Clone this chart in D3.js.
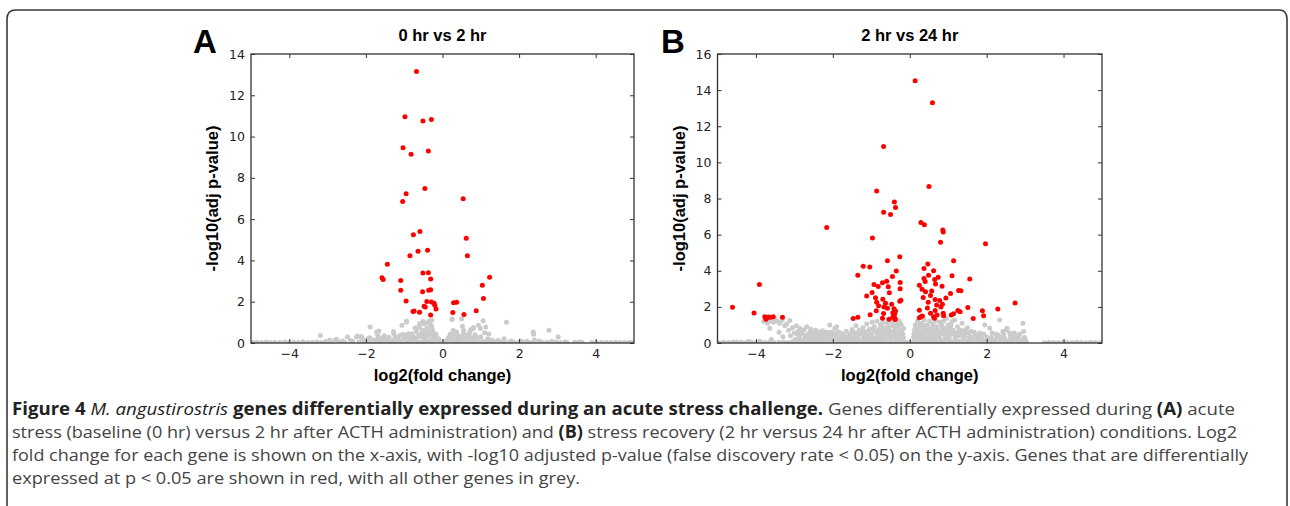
<!DOCTYPE html>
<html>
<head>
<meta charset="utf-8">
<script src="https://cdn.jsdelivr.net/npm/d3@7"></script>
<style>
  html, body { margin: 0; padding: 0; background: #fff; }
  svg { display: block; }
</style>
</head>
<body>
<svg id="fig" width="1290" height="506"></svg>
<script>
// ============================================================
// DATI
// ============================================================
const xTicks = [-4, -2, 0, 2, 4];
const yTicksA = [0, 2, 4, 6, 8, 10, 12, 14];
const yTicksB = [0, 2, 4, 6, 8, 10, 12, 14, 16];
const panelTitles = ["0 hr vs 2 hr", "2 hr vs 24 hr"];
const panelLetters = ["A", "B"];
const xLabel = "log2(fold change)";
const yLabel = "-log10(adj p-value)";

// pannello A: geni significativi (rossi)
const redA = [
  [-0.68,13.15],[-0.98,10.96],[-0.51,10.75],[-0.29,10.83],[-1.03,9.46],[-0.82,9.14],[-0.37,9.3],
  [-0.46,7.49],[-0.95,7.23],[-1.04,6.86],[0.54,6.99],[-0.76,5.25],[-0.59,5.4],[0.62,5.07],
  [-0.85,4.23],[-0.64,4.44],[-0.39,4.49],[0.65,4.23],[-1.44,3.81],[-1.58,3.16],[-1.55,3.08],
  [-1.09,3.03],[-0.51,3.39],[-0.37,3.4],[-0.31,3.1],[1.23,3.18],[1.04,2.8],[-1.09,2.56],
  [-0.52,2.48],[-0.36,2.56],[-0.31,2.58],[-0.95,2.04],[-0.41,2.01],[-0.29,1.99],[-0.22,1.93],
  [-0.2,1.83],[-0.17,1.65],[-0.48,1.78],[-0.45,1.75],[0.29,1.95],[0.37,1.98],[1.07,2.16],
  [-0.77,1.53],[-0.74,1.55],[-0.6,1.49],[-0.31,1.36],[0.27,1.48],[0.56,1.38],[0.88,1.56]
];

// pannello A: altri geni (grigi)
const greyA = [
  [-3.19,0.36],[-2.94,0.15],[-2.8,0.15],[-2.77,0.18],[-2.6,0.1],[-2.48,0.29],[-2.4,0.12],[-2.25,0.29],
  [-2.22,0.34],[-2.12,0.32],[-2.11,0.25],[-2.0,0.12],[-1.95,0.2],[-1.89,0.78],[-1.8,0.15],[-1.72,0.53],
  [-1.69,0.37],[-1.66,0.58],[-1.6,0.2],[-1.55,0.25],[-1.52,0.35],[-1.45,0.15],[-1.4,0.28],[-1.35,0.1],
  [-1.28,0.56],[-1.27,0.45],[-1.2,0.3],[-1.15,0.18],[-1.1,0.38],[-1.06,0.86],[-1.03,0.42],[-1.0,0.22],
  [-0.94,1.0],[-0.94,1.07],[-0.89,0.45],[-0.88,0.3],[-0.82,0.15],[-0.78,0.35],[-0.72,0.73],[-0.7,0.25],
  [-0.64,0.75],[-0.6,0.94],[-0.6,0.8],[-0.57,0.29],[-0.55,0.45],[-0.51,1.04],[-0.51,0.49],[-0.48,0.93],
  [-0.45,0.2],[-0.42,0.6],[-0.41,0.71],[-0.4,0.65],[-0.38,1.0],[-0.36,0.35],[-0.34,1.07],[-0.33,0.9],
  [-0.3,0.15],[-0.29,0.84],[-0.29,0.81],[-0.28,1.1],[-0.26,0.55],[-0.25,0.53],[-0.22,0.3],[-0.2,0.29],
  [-0.17,0.42],[-0.15,0.15],[-0.1,0.2],[0.1,0.1],[0.15,0.25],[0.2,0.42],[0.22,0.3],[0.25,1.18],
  [0.25,1.14],[0.28,0.6],[0.3,0.5],[0.32,0.49],[0.35,0.2],[0.37,0.53],[0.42,0.35],[0.5,1.18],[0.52,0.81],
  [0.55,0.45],[0.55,0.62],[0.6,0.3],[0.65,0.15],[0.68,0.42],[0.72,0.55],[0.74,0.65],[0.78,0.25],
  [0.8,0.7],[0.81,0.75],[0.85,0.4],[0.9,0.2],[0.94,0.86],[0.99,0.7],[1.0,0.3],[1.06,1.08],[1.1,0.5],
  [1.13,0.78],[1.21,0.43],[1.3,0.15],[1.45,0.12],[1.61,0.21],[1.67,1.0],[1.8,0.1],[2.05,0.1],
  [2.2,0.08],[2.37,0.53],[2.38,0.42],[2.4,0.15],[2.53,0.1],[2.78,0.62],[2.85,0.08],[3.02,0.29],
  [3.2,0.05],[3.6,0.05],
  [-1.9,0.25],[-1.7,0.18],[-1.5,0.12],[-1.25,0.22],[-1.12,0.1],[-0.98,0.35],[-0.9,0.2],[-0.8,0.45],
  [-0.75,0.2],[-0.68,0.55],[-0.62,0.35],[-0.53,0.62],[-0.47,0.35],[-0.43,0.48],[-0.37,0.55],[-0.32,0.4],
  [-0.27,0.68],[-0.23,0.45],[-0.18,0.25],[0.18,0.2],[0.26,0.35],[0.33,0.4],[0.4,0.2],[0.47,0.3],
  [0.58,0.2],[0.7,0.35],[0.88,0.3],[1.18,0.2]
];

// pannello A: geni con p ~ 1 (linea di base)
const baseA = [
  [-4.95,0.02],[-4.84,0.04],[-4.72,0.03],[-4.6,0.05],[-4.5,0.02],[-4.38,0.04],[-4.25,0.03],[-4.12,0.05],
  [-4.0,0.02],[-3.88,0.04],[-3.76,0.03],[-3.64,0.06],[-3.52,0.02],[-3.4,0.04],[-3.28,0.05],[-3.16,0.03],
  [-3.05,0.07],[-2.92,0.04],[-2.7,0.06],[-2.55,0.03],[-2.35,0.08],[-2.18,0.05],[-2.05,0.1],[-1.9,0.06],
  [-1.75,0.09],[-1.62,0.04],[-1.48,0.1],[-1.3,0.06],[-1.22,0.12],[-1.08,0.05],[-0.95,0.1],[-0.85,0.07],
  [-0.7,0.12],[-0.62,0.05],[-0.5,0.1],[-0.4,0.08],[-0.3,0.12],[-0.25,0.05],[-0.12,0.1],[-0.05,0.06],
  [0.05,0.08],[0.12,0.05],[0.25,0.1],[0.35,0.06],[0.45,0.12],[0.55,0.05],[0.65,0.09],[0.75,0.06],
  [0.85,0.1],[0.95,0.05],[1.05,0.08],[1.15,0.05],[1.25,0.07],[1.38,0.04],[1.5,0.06],[1.62,0.03],
  [1.75,0.05],[1.88,0.03],[2.0,0.05],[2.12,0.03],[2.25,0.04],[2.36,0.02],[2.48,0.05],[2.6,0.03],
  [2.72,0.04],[2.84,0.02],[2.96,0.05],[3.08,0.03],[3.25,0.02],[3.45,0.04],[3.55,0.03],[3.65,0.02],
  [3.9,0.03],[4.02,0.02],[4.15,0.04],[4.28,0.03],[4.4,0.02],[4.52,0.04],[4.64,0.03],[4.76,0.02],
  [4.88,0.04],[4.97,0.03]
];

// pannello B: geni significativi (rossi)
const redB = [
  [0.14,14.52],[0.59,13.3],[-0.68,10.88],[0.5,8.67],[-0.86,8.41],[-0.4,7.8],[-0.37,7.5],[-0.68,7.24],
  [-0.5,7.11],[-2.16,6.39],[0.29,6.67],[0.38,6.54],[0.86,6.26],[0.87,6.15],[-0.97,5.82],[0.8,5.58],
  [1.97,5.5],[-0.26,4.77],[-0.58,4.55],[1.14,4.56],[0.47,4.38],[-1.21,4.25],[-1.04,4.21],[0.37,4.12],
  [-0.35,3.99],[0.62,4.0],[-1.35,3.75],[-0.45,3.68],[0.49,3.75],[1.1,3.73],[0.74,3.64],[-0.6,3.42],
  [-0.71,3.33],[-0.25,3.35],[0.37,3.57],[0.4,3.4],[0.65,3.51],[1.56,3.55],[-3.91,3.24],[-0.93,3.24],
  [-0.82,3.13],[-0.56,3.11],[-0.25,3.0],[0.25,3.2],[0.67,3.26],[0.84,3.14],[1.27,2.91],[1.33,2.89],
  [0.32,2.97],[0.41,2.84],[-1.12,2.6],[-0.98,2.8],[-0.53,2.78],[0.57,2.88],[0.54,2.63],[0.35,2.52],
  [1.06,2.74],[-0.89,2.5],[-0.7,2.42],[-0.23,2.37],[-0.26,2.31],[0.66,2.41],[0.78,2.35],[0.94,2.49],
  [-0.86,2.26],[-0.63,2.2],[-0.47,2.15],[0.48,2.26],[0.85,2.15],[2.74,2.22],[-4.61,1.98],[-0.81,2.06],
  [-0.67,2.0],[-0.58,1.93],[-0.41,1.9],[0.7,2.11],[0.81,2.0],[1.51,1.96],[0.46,1.94],[2.29,1.88],
  [-0.87,1.79],[-0.37,1.77],[0.25,1.82],[0.66,1.8],[1.25,1.8],[1.31,1.73],[1.89,1.79],[1.14,1.62],
  [1.08,1.55],[-0.44,1.67],[-0.39,1.62],[-4.05,1.66],[-1.03,1.56],[-0.68,1.63],[0.54,1.65],[0.71,1.55],
  [0.87,1.65],[0.88,1.51],[1.92,1.51],[-3.77,1.46],[-3.72,1.38],[-3.68,1.44],[-3.62,1.42],[-3.55,1.46],
  [-3.74,1.31],[-3.31,1.42],[-1.47,1.35],[-1.35,1.42],[-0.71,1.37],[-0.44,1.42],[-0.38,1.35],[-0.41,1.51],
  [0.29,1.46],[0.33,1.49],[0.62,1.46],[0.64,1.37],[0.25,1.4],[1.65,1.35],[-0.54,1.31],[-0.38,1.3]
];

// pannello B: altri geni (grigi)
const greyB = [
  [-3.8,1.2],[-3.75,1.3],[-3.7,1.1],[-3.62,1.25],[-3.55,1.15],[-3.5,1.3],[-3.45,1.2],[-3.38,1.1],
  [-3.32,1.28],[-3.25,0.95],[-3.2,1.05],[-3.12,1.24],[-3.64,0.81],[-3.4,0.6],[-3.3,0.35],[-3.6,0.2],
  [-3.9,0.1],[-4.2,0.08],[-4.5,0.05],
  [-3.15,0.7],[-3.1,0.4],[-3.05,0.85],[-3.0,0.55],[-2.98,0.2],[-2.95,0.95],[-2.9,0.65],[-2.88,0.35],
  [-2.85,0.8],[-2.8,0.5],[-2.78,0.15],[-2.75,0.72],[-2.7,0.42],[-2.68,0.9],[-2.65,0.25],[-2.6,0.6],
  [-2.58,0.78],[-2.55,0.38],[-2.5,0.55],[-2.48,0.12],[-2.45,0.7],[-2.42,0.3],[-2.4,0.48],[-2.35,0.62],
  [-2.32,0.2],[-2.3,0.4],[-2.25,0.55],[-2.22,0.1],[-2.2,0.33],[-2.15,0.48],[-2.12,0.25],[-2.08,1.0],
  [-2.05,0.6],[-2.02,0.38],[-1.98,0.15],[-1.95,0.8],[-1.92,0.45],[-1.9,0.9],[-1.85,0.3],[-1.8,0.55],
  [-1.78,0.18],[-1.72,0.4],[-1.68,0.25],[-1.65,0.65],[-1.6,0.12],
  [-1.56,0.5],[-1.52,0.3],[-1.5,0.75],[-1.46,0.2],[-1.42,0.55],[-1.4,0.95],[-1.36,0.35],[-1.32,0.7],
  [-1.3,0.15],[-1.26,0.5],[-1.22,0.85],[-1.2,0.3],[-1.16,0.62],[-1.12,1.05],[-1.1,0.4],[-1.06,0.2],
  [-1.04,0.78],[-1.0,0.5],[-0.98,1.15],[-0.96,0.3],[-0.92,0.9],[-0.9,0.62],[-0.88,0.12],[-0.85,1.2],
  [-0.83,0.42],[-0.8,0.75],[-0.78,0.25],[-0.76,1.0],[-0.72,0.55],[-0.7,1.15],[-0.68,0.35],[-0.66,0.85],
  [-0.62,0.15],[-0.6,0.68],[-0.58,1.1],[-0.55,0.45],[-0.53,0.9],[-0.5,0.25],[-0.48,1.2],[-0.46,0.6],
  [-0.44,0.95],[-0.42,1.3],[-0.4,0.4],[-0.38,0.78],[-0.36,1.1],[-0.34,0.2],[-0.32,0.55],[-0.3,0.9],
  [-0.28,1.25],[-0.26,0.35],[-0.24,0.7],[-0.22,1.0],[-0.2,0.15],[-0.18,0.5],[-0.16,0.8],
  [0.1,0.3],[0.12,0.7],[0.14,1.0],[0.16,0.15],[0.18,0.5],[0.2,1.2],[0.22,0.85],[0.24,0.35],[0.27,0.62],
  [0.3,1.1],[0.32,0.2],[0.34,0.9],[0.36,0.45],[0.38,1.28],[0.4,0.7],[0.43,0.3],[0.46,1.0],[0.48,0.55],
  [0.5,0.15],[0.52,1.2],[0.55,0.8],[0.57,0.4],[0.6,1.05],[0.62,0.6],[0.65,0.25],[0.68,1.25],[0.7,0.9],
  [0.72,0.45],[0.75,0.7],[0.78,1.15],[0.8,0.2],[0.83,0.95],[0.86,0.5],[0.88,1.2],[0.9,0.75],[0.93,0.3],
  [0.95,1.36],[0.98,0.6],[1.0,1.0],[1.03,0.35],[1.06,0.8],[1.1,1.2],[1.13,0.5],[1.17,1.27],[1.2,0.15],
  [1.24,0.9],[1.28,0.4],[1.32,0.7],[1.36,1.1],[1.4,0.25],[1.45,0.55],[1.5,0.85],[1.55,0.3],[1.6,0.63],
  [1.65,0.12],[1.7,0.45],[1.76,0.25],[1.82,0.55],[1.88,0.15],[1.95,1.0],[2.0,0.35],
  [2.05,0.1],[2.08,0.81],[2.12,0.3],[2.18,0.18],[2.24,0.5],[2.3,0.44],[2.34,1.27],[2.38,0.2],[2.42,0.63],
  [2.46,0.3],[2.51,0.72],[2.53,0.81],[2.58,0.15],[2.62,0.4],[2.68,0.25],[2.72,0.55],[2.78,0.12],
  [2.82,0.35],[2.88,0.2],[2.94,1.09],[2.96,0.63],[2.98,0.3],[3.02,0.1],
  // fascia bassa densa
  [-2.96,0.08],[-2.86,0.22],[-2.74,0.05],[-2.62,0.18],[-2.52,0.28],[-2.38,0.06],[-2.28,0.2],[-2.18,0.3],
  [-2.06,0.22],[-1.96,0.35],[-1.88,0.08],[-1.76,0.28],[-1.62,0.35],[-1.54,0.1],[-1.44,0.32],[-1.34,0.22],
  [-1.24,0.08],[-1.14,0.25],[-1.02,0.32],[-0.94,0.1],[-0.86,0.28],[-0.74,0.12],[-0.64,0.3],[-0.56,0.08],
  [-0.46,0.32],[-0.36,0.08],[-0.27,0.22],[-0.19,0.32],[0.12,0.22],[0.2,0.08],[0.28,0.32],[0.36,0.12],
  [0.44,0.22],[0.54,0.35],[0.63,0.08],[0.73,0.28],[0.84,0.1],[0.96,0.22],[1.08,0.1],[1.18,0.32],
  [1.3,0.1],[1.42,0.38],[1.52,0.12],[1.62,0.3],[1.74,0.08],[1.86,0.3],[1.98,0.12],[2.1,0.22],
  [2.22,0.08],[2.36,0.3],[2.5,0.1],[2.64,0.22],[2.76,0.32],[2.9,0.08],[3.0,0.22],
  // fascia media
  [-2.92,0.5],[-2.84,0.62],[-2.72,0.3],[-2.64,0.48],[-2.56,0.68],[-2.46,0.45],[-2.36,0.35],[-2.26,0.68],
  [-2.16,0.6],[-2.1,0.4],[-1.99,0.55],[-1.87,0.62],[-1.74,0.5],[-1.58,0.42],[-1.48,0.6],[-1.38,0.45],
  [-1.28,0.62],[-1.18,0.48],[-1.08,0.65],[-0.99,0.4],[-0.93,0.72],[-0.84,0.58],[-0.75,0.45],[-0.69,0.8],
  [-0.63,0.52],[-0.57,0.8],[-0.51,0.65],[-0.45,0.42],[-0.41,1.05],[-0.37,0.6],[-0.33,0.95],[-0.29,0.48],
  [-0.25,1.1],[-0.21,0.62],[-0.17,0.3],[0.11,0.5],[0.15,0.8],[0.19,0.38],[0.23,0.65],[0.26,1.0],
  [0.31,0.45],[0.35,0.7],[0.39,0.95],[0.42,0.55],[0.47,0.8],[0.51,0.42],[0.56,0.62],[0.61,0.85],
  [0.66,0.5],[0.71,0.68],[0.76,0.38],[0.81,0.6],[0.87,0.85],[0.92,0.55],[0.97,0.8],[1.02,0.55],
  [1.07,1.0],[1.12,0.7],[1.19,0.55],[1.26,0.62],[1.34,0.48],[1.44,0.72],[1.54,0.55],[1.68,0.6],
  [1.8,0.4],[1.92,0.5],[2.14,0.55],[2.27,0.3],[2.44,0.45],[2.6,0.55],[2.74,0.42],[2.86,0.5]
];

// pannello B: linea di base
const baseB = [
  [-4.95,0.02],[-4.84,0.04],[-4.72,0.03],[-4.6,0.05],[-4.5,0.02],[-4.38,0.04],[-4.25,0.03],[-4.12,0.05],
  [-4.0,0.02],[-3.88,0.04],[-3.76,0.03],[-3.64,0.06],[-3.52,0.02],[-3.4,0.04],[-3.28,0.05],[-3.16,0.03],
  [-3.05,0.07],[-2.92,0.04],[-2.8,0.06],[-2.66,0.03],[-2.55,0.08],[-2.44,0.04],[-2.3,0.06],[-2.16,0.03],
  [-2.02,0.07],[-1.9,0.04],[-1.76,0.06],[-1.64,0.03],[-1.5,0.07],[-1.38,0.04],[-1.26,0.06],[-1.14,0.03],
  [-1.0,0.07],[-0.9,0.04],[-0.78,0.06],[-0.66,0.03],[-0.52,0.07],[-0.42,0.04],[-0.3,0.06],[-0.2,0.03],
  [-0.1,0.05],[0.0,0.03],[0.1,0.05],[0.22,0.03],[0.32,0.06],[0.42,0.04],[0.58,0.07],[0.68,0.03],
  [0.8,0.06],[0.9,0.04],[1.02,0.07],[1.12,0.03],[1.24,0.06],[1.36,0.04],[1.48,0.07],[1.58,0.03],
  [1.7,0.06],[1.8,0.04],[1.92,0.07],[2.04,0.03],[2.16,0.05],[2.28,0.03],[2.4,0.06],[2.54,0.04],
  [2.66,0.06],[2.8,0.03],[2.92,0.05],[3.04,0.03],[3.5,0.02],[3.62,0.04],[3.74,0.03],[3.86,0.02],
  [3.98,0.04],[4.1,0.03],[4.22,0.02],[4.34,0.04],[4.46,0.03],[4.58,0.02],[4.7,0.04],[4.82,0.03],
  [4.94,0.02]
];

// didascalia: righe con segmenti [testo, stile]
const captionLines = [
  [["Figure 4 ", "b"], ["M. angustirostris", "i"], [" genes differentially expressed during an acute stress challenge.", "b"],
   [" Genes differentially expressed during ", "n"], ["(A)", "b"], [" acute", "n"]],
  [["stress (baseline (0 hr) versus 2 hr after ACTH administration) and ", "n"], ["(B)", "b"],
   [" stress recovery (2 hr versus 24 hr after ACTH administration) conditions. Log2", "n"]],
  [["fold change for each gene is shown on the x-axis, with -log10 adjusted p-value (false discovery rate < 0.05) on the y-axis. Genes that are differentially", "n"]],
  [["expressed at p < 0.05 are shown in red, with all other genes in grey.", "n"]]
];
const captionWidths = [1223, 1225, 1236, 568];

// ============================================================
// SETUP SVG
// ============================================================
const svg = d3.select("#fig");
const RED = "#ff0000";
const GREY = "#cbcbcb";
const AXIS = "#333";
const SANS = "'Liberation Sans', Arial, Helvetica, sans-serif";
const TICKFONT = "'DejaVu Sans', sans-serif";

// cornice arrotondata
svg.append("path")
  .attr("d", "M7,510 L7,19 Q7,10 16,10 L1279,10 Q1287,10 1287,19 L1287,510")
  .attr("fill", "none")
  .attr("stroke", "#3a3a3a")
  .attr("stroke-width", 1.6);

const panels = [
  { id: "a", left: 251, right: 634, top: 54, bottom: 343, yMax: 14, yTicks: yTicksA,
    red: redA, grey: greyA.concat(baseA), title: panelTitles[0], letter: panelLetters[0],
    letterX: 193, yLabelX: 218 },
  { id: "b", left: 717.5, right: 1102, top: 54, bottom: 343, yMax: 16, yTicks: yTicksB,
    red: redB, grey: greyB.concat(baseB), title: panelTitles[1], letter: panelLetters[1],
    letterX: 661, yLabelX: 685 }
];

panels.forEach(drawPanel);
drawCaption();

// ============================================================
// PANNELLO VOLCANO
// ============================================================
function drawPanel(p) {
  const x = d3.scaleLinear().domain([-5, 5]).range([p.left, p.right]);
  const y = d3.scaleLinear().domain([0, p.yMax]).range([p.bottom, p.top]);
  const g = svg.append("g");
  const w = p.right - p.left;
  const h = p.bottom - p.top;

  g.append("clipPath").attr("id", "clip-" + p.id)
    .append("rect").attr("x", p.left).attr("y", p.top).attr("width", w).attr("height", h);

  const dots = g.append("g").attr("clip-path", `url(#clip-${p.id})`);
  dots.selectAll("circle.grey")
    .data(p.grey)
    .enter()
    .append("circle")
    .attr("class", "grey")
    .attr("cx", (d) => x(d[0]))
    .attr("cy", (d) => y(d[1]))
    .attr("r", 2.5)
    .attr("fill", GREY);

  dots.selectAll("circle.red")
    .data(p.red)
    .enter()
    .append("circle")
    .attr("class", "red")
    .attr("cx", (d) => x(d[0]))
    .attr("cy", (d) => y(d[1]))
    .attr("r", 2.5)
    .attr("fill", RED);

  // assi con tacche interne su tutti i lati
  const axes = [
    [d3.axisLeft(y).tickValues(p.yTicks).tickFormat(d3.format("d")), `translate(${p.left},0)`, true],
    [d3.axisRight(y).tickValues(p.yTicks).tickFormat(""), `translate(${p.right},0)`, false],
    [d3.axisBottom(x).tickValues(xTicks).tickFormat(d3.format("d")), `translate(0,${p.bottom})`, true],
    [d3.axisTop(x).tickValues(xTicks).tickFormat(""), `translate(0,${p.top})`, false]
  ];
  axes.forEach(([axis, tr, labels]) => {
    const a = g.append("g")
      .attr("transform", tr)
      .call(axis.tickSizeInner(-4).tickSizeOuter(0).tickPadding(labels ? 6 : 0));
    a.select(".domain").remove();
    a.selectAll("line").attr("stroke", AXIS).attr("stroke-width", 1);
    a.selectAll("text")
      .attr("fill", "#222")
      .style("font-family", TICKFONT)
      .style("font-size", "12.5px");
  });

  g.append("rect")
    .attr("x", p.left).attr("y", p.top)
    .attr("width", w).attr("height", h)
    .attr("fill", "none")
    .attr("stroke", AXIS)
    .attr("stroke-width", 1.3);

  // titolo, lettera, etichette
  g.append("text")
    .attr("x", (p.left + p.right) / 2).attr("y", 41)
    .attr("text-anchor", "middle")
    .style("font-family", SANS).style("font-weight", "bold").style("font-size", "16.5px")
    .text(p.title);

  g.append("text")
    .attr("x", p.letterX).attr("y", 52.5)
    .style("font-family", SANS).style("font-weight", "bold").style("font-size", "33px")
    .text(p.letter);

  g.append("text")
    .attr("x", (p.left + p.right) / 2).attr("y", 381)
    .attr("text-anchor", "middle")
    .style("font-family", SANS).style("font-weight", "bold").style("font-size", "16.5px")
    .text(xLabel);

  g.append("text")
    .attr("transform", `translate(${p.yLabelX},${(p.top + p.bottom) / 2}) rotate(-90)`)
    .attr("text-anchor", "middle")
    .style("font-family", SANS).style("font-weight", "bold").style("font-size", "16.5px")
    .text(yLabel);
}

// ============================================================
// DIDASCALIA
// ============================================================
function drawCaption() {
  captionLines.forEach((segs, i) => {
    const t = svg.append("text")
      .attr("x", 12)
      .attr("y", 415 + i * 23)
      .attr("textLength", captionWidths[i])
      .attr("lengthAdjust", "spacingAndGlyphs")
      .style("font-family", "'Open Sans', 'Noto Sans', sans-serif")
      .style("font-size", "17px")
      .attr("fill", "#444");
    segs.forEach(([txt, st]) => {
      t.append("tspan")
        .attr("font-weight", st === "b" ? "bold" : null)
        .attr("font-style", st === "i" ? "italic" : null)
        .attr("fill", st === "n" ? null : "#222")
        .text(txt);
    });
  });
}
</script>
</body>
</html>
